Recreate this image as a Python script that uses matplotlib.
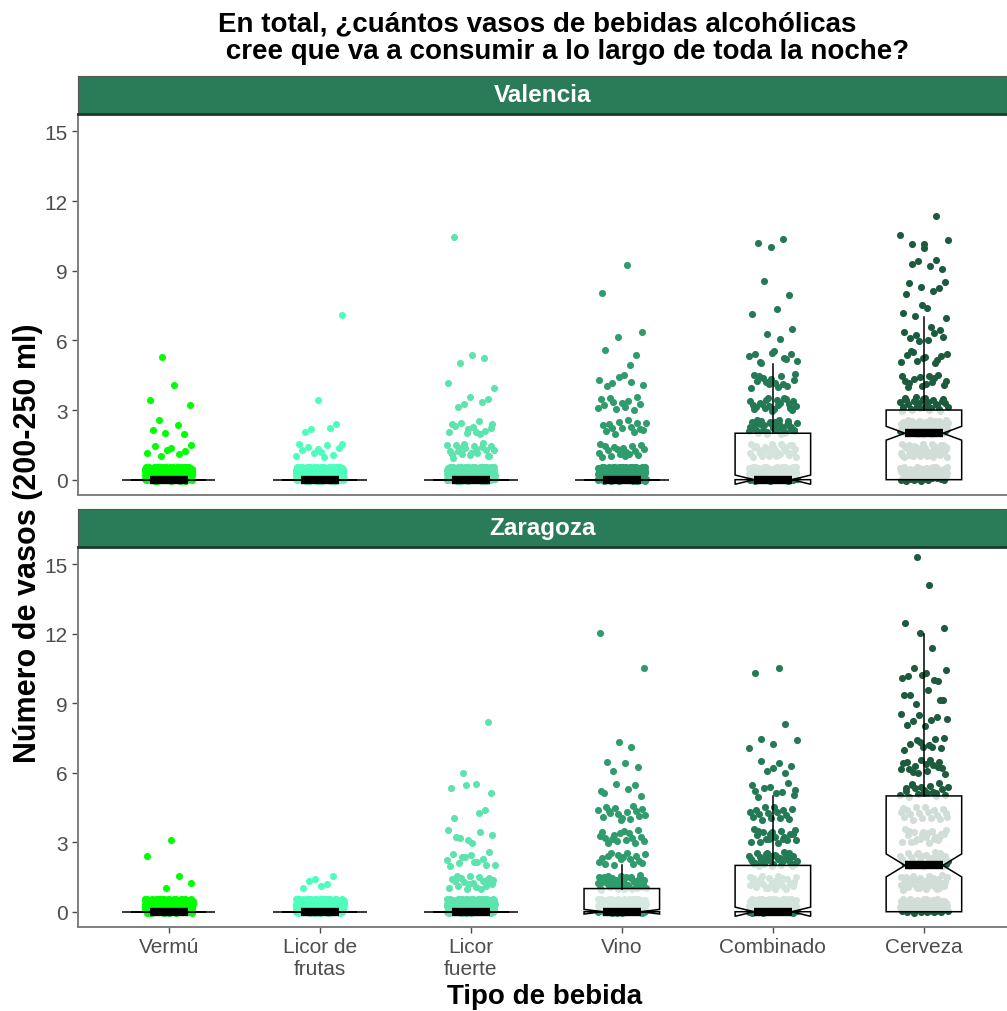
import numpy as np
import matplotlib
matplotlib.use("Agg")
import matplotlib.pyplot as plt
from matplotlib import cbook

plt.rcParams['font.family'] = ['Liberation Sans', 'DejaVu Sans']

# ---------------- data ----------------
categories = ["Vermú", "Licor de\nfrutas", "Licor\nfuerte", "Vino", "Combinado", "Cerveza"]
cities = ["Valencia", "Zaragoza"]
colors = ["#00FF00", "#4DFFBC", "#5CE3AE", "#2E9C6D", "#237A54", "#1C5B3E"]
y_ticks = [0, 3, 6, 9, 12, 15]

# number of respondents answering 0, 1, 2, ... glasses
valencia_vermu = [233, 8, 5, 2, 1, 1]
valencia_licor_frutas = [232, 12, 4, 1, 0, 0, 0, 1]
valencia_licor_fuerte = [204, 22, 13, 5, 2, 3, 0, 0, 0, 0, 1]
valencia_vino = [192, 18, 14, 12, 7, 3, 2, 0, 1, 1]
valencia_combinado = [128, 30, 35, 22, 15, 10, 3, 2, 2, 0, 3]
valencia_cerveza = [64, 44, 58, 28, 14, 11, 9, 5, 6, 5, 5, 1]

zaragoza_vermu = [245, 3, 1, 1]
zaragoza_licor_frutas = [244, 6]
zaragoza_licor_fuerte = [201, 20, 13, 7, 3, 4, 1, 0, 1]
zaragoza_vino = [144, 44, 16, 16, 16, 6, 4, 2, 0, 0, 1, 0, 1]
zaragoza_combinado = [128, 30, 34, 20, 15, 10, 6, 4, 1, 0, 2]
zaragoza_cerveza = [66, 40, 30, 22, 18, 20, 16, 10, 8, 6, 8, 1, 3, 0, 1, 1]

counts = {
    "Valencia": [valencia_vermu, valencia_licor_frutas, valencia_licor_fuerte,
                 valencia_vino, valencia_combinado, valencia_cerveza],
    "Zaragoza": [zaragoza_vermu, zaragoza_licor_frutas, zaragoza_licor_fuerte,
                 zaragoza_vino, zaragoza_combinado, zaragoza_cerveza],
}

# ---------------- helpers ----------------
def halton(idx, base):
    out = np.zeros(len(idx))
    for n, i in enumerate(idx):
        f, r, i = 1.0, 0.0, int(i)
        while i > 0:
            f /= base
            r += f * (i % base)
            i //= base
        out[n] = r
    return out

W, H = 1007, 1012
fig = plt.figure(figsize=(W / 100, H / 100), dpi=100)

def fx(px):
    return px / W

def fy(py):
    return 1 - py / H

panel_px = {"Valencia": (115, 496, 77), "Zaragoza": (548, 928, 510)}
left_px, right_px = 78, 1007

for ci, city in enumerate(cities):
    top, bot, strip_top = panel_px[city]
    ax = fig.add_axes([fx(left_px), fy(bot), fx(right_px - left_px), (bot - top) / H])
    ax.set_xlim(0.4, 6.55)
    ax.set_ylim(-0.66, 15.75)

    for j, cnt in enumerate(counts[city]):
        pos = j + 1
        vals = np.repeat(np.arange(len(cnt)), cnt).astype(float)
        k = np.arange(len(vals)) + 1 + 53 * j + 311 * ci
        u = halton(k, 2)
        v = halton(k, 3)
        xs = pos + (u - 0.5) * 0.32
        ys = vals - 0.05 + v * 0.62
        ax.scatter(xs, ys, s=26, color=colors[j], linewidths=0, zorder=2)

        st = cbook.boxplot_stats(vals, whis=1.5)
        ax.bxp(st, positions=[pos], widths=0.5, shownotches=True, patch_artist=True,
               showfliers=False, showcaps=False, zorder=3,
               boxprops=dict(facecolor=(1, 1, 1, 0.8), edgecolor="black", linewidth=1.1),
               medianprops=dict(color="black", linewidth=6, solid_capstyle="butt"),
               whiskerprops=dict(color="black", linewidth=1.1))
        s0 = st[0]
        if s0["q1"] == s0["q3"]:
            ax.hlines(s0["med"], pos - 0.31, pos + 0.31, color="black",
                      linewidth=1.1, zorder=3)

    ax.set_yticks(y_ticks)
    ax.set_yticklabels([str(t) for t in y_ticks])
    ax.tick_params(axis="y", colors="#4D4D4D", labelsize=15, length=4, width=1,
                   labelcolor="#4D4D4D")
    ax.set_xticks(range(1, 7))
    if ci == 1:
        ax.set_xticklabels(categories)
        ax.tick_params(axis="x", colors="#4D4D4D", labelsize=15, length=4, width=1,
                       labelcolor="#4D4D4D")
    else:
        ax.set_xticklabels([])
        ax.tick_params(axis="x", length=0)
    for sp in ["top", "right"]:
        ax.spines[sp].set_visible(False)
    for sp in ["left", "bottom"]:
        ax.spines[sp].set_color("#7F7F7F")
        ax.spines[sp].set_linewidth(1.4)

    # strip
    sax = fig.add_axes([fx(left_px), fy(top), fx(right_px - left_px), (top - strip_top) / H])
    sax.set_facecolor("#2A7C59")
    sax.set_xticks([])
    sax.set_yticks([])
    for sp in ["left", "right", "top"]:
        sax.spines[sp].set_color("#555555")
        sax.spines[sp].set_linewidth(0.8)
    sax.spines["bottom"].set_color("#1B3B2C")
    sax.spines["bottom"].set_linewidth(2)
    sax.text(0.5, 0.5, city, color="white", fontsize=17.5, fontweight="bold",
             ha="center", va="center", transform=sax.transAxes)

fig.text(fx(218), fy(11), "En total, ¿cuántos vasos de bebidas alcohólicas\n cree que va a consumir a lo largo de toda la noche?",
         ha="left", va="top", fontsize=20, fontweight="bold", multialignment="left",
         linespacing=1.08)
fig.text(fx(28), fy(543), "Número de vasos (200-250 ml)", rotation=90, ha="center",
         va="center", fontsize=22, fontweight="bold")
fig.text(fx(545), fy(997), "Tipo de bebida", ha="center", va="center",
         fontsize=20, fontweight="bold")

fig.savefig("out.png", dpi=100)
